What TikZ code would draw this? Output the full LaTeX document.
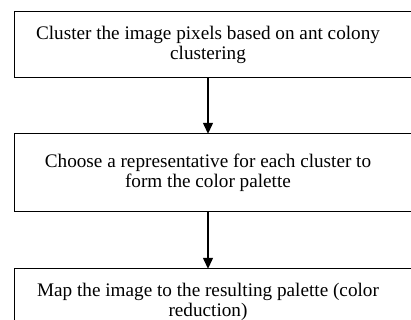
\documentclass[tikz,border=0pt]{standalone}
\usepackage{fontspec}
\setmainfont{Liberation Serif}
\usetikzlibrary{arrows.meta,positioning}

\begin{document}
\begin{tikzpicture}[x=1pt,y=-1pt,
  stepbox/.style={minimum width=386pt,inner sep=0pt,align=center,
                  font=\fontsize{19.2pt}{20pt}\selectfont},
  frame/.style={line width=1.3pt},
  arrow/.style={-{Triangle[length=11pt,width=10pt]},line width=1.3pt}]
\useasboundingbox (0,0) rectangle (411,320);
\clip (0,0) rectangle (411,320);
\node[stepbox,minimum height=65pt](clus) at (208,44.5)
  {Cluster the image pixels based on ant colony\\clustering};
\node[stepbox,minimum height=77pt](pick) at (208,172.5)
  {Choose a representative for each cluster to\\form the color palette};
\node[stepbox,minimum height=65pt](mapc) at (208,301.5)
  {Map the image to the resulting palette (color\\reduction)};
% frames run past the right edge
\foreach \b in {clus,pick,mapc}
  \draw[frame] (\b.south west) rectangle ([xshift=30pt]\b.north east);
\draw[arrow](clus)--(pick);
\draw[arrow](pick)--(mapc);
\end{tikzpicture}
\end{document}
